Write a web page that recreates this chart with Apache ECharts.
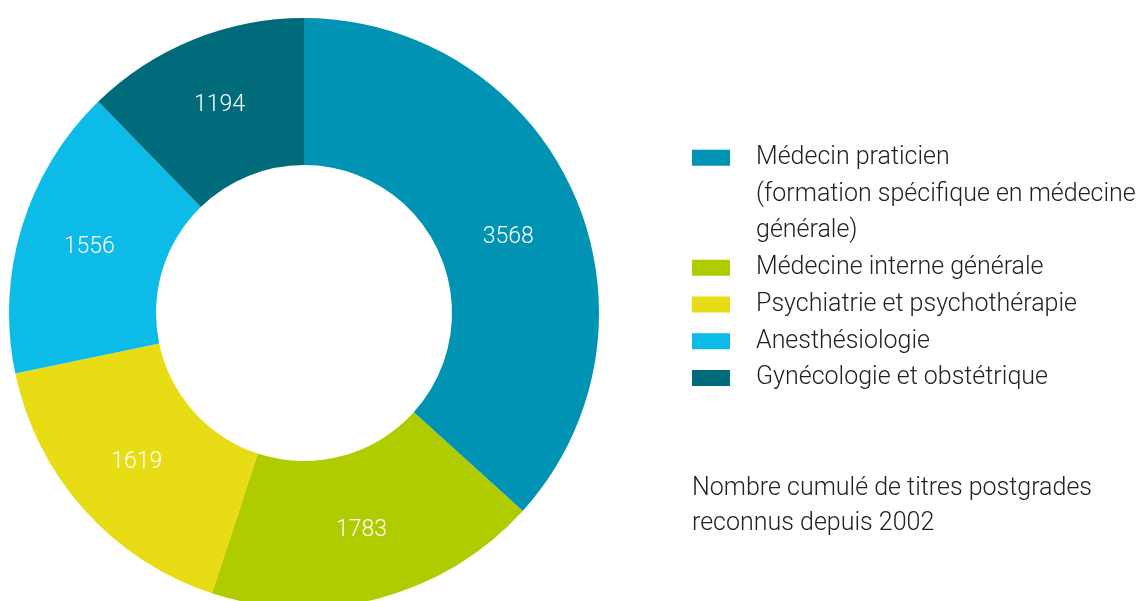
<!DOCTYPE html>
<html>
<head>
<meta charset="utf-8">
<script src="https://cdn.jsdelivr.net/npm/echarts@6/dist/echarts.min.js"></script>
<style>
  html, body { margin: 0; padding: 0; background: #fff; }
  #main { width: 1138px; height: 601px; }
</style>
</head>
<body>
<div id="main"></div>
<script>
var chart = echarts.init(document.getElementById('main'));

var categories = [
    'Médecin praticien\n(formation spécifique en médecine\ngénérale)',
    'Médecine interne générale',
    'Psychiatrie et psychothérapie',
    'Anesthésiologie',
    'Gynécologie et obstétrique'
];
var values = [3568, 1783, 1619, 1556, 1194];
var colors = ['#0093b4', '#b0cb00', '#e8dc15', '#0dbbe8', '#006b7a'];
var note = 'Nombre cumulé de titres postgrades\nreconnus depuis 2002';

var font = 'Roboto';
var lineH = 36.7;

var pieData = [];
for (var i = 0; i < values.length; i++) {
    pieData.push({
        name: categories[i],
        value: values[i],
        itemStyle: { color: colors[i] }
    });
}
// the big slice's label sits a bit lower in the original
pieData[0].label = { offset: [-1, 15] };

option = {
    backgroundColor: '#fff',
    animation: false,
    title: {
        text: note,
        left: 692,
        top: 471,
        padding: 0,
        textStyle: {
            fontFamily: font,
            fontWeight: 300,
            fontSize: 25,
            lineHeight: 35,
            color: '#222'
        }
    },
    legend: {
        orient: 'vertical',
        left: 692,
        top: 66,
        padding: 0,
        itemWidth: 38,
        itemHeight: 16,
        itemGap: 0,
        icon: 'rect',
        selectedMode: false,
        data: categories,
        // pad multi-line names with blank lines on top so the box stays on the first line
        formatter: function (name) {
            var n = name.split('\n').length;
            var pad = '';
            for (var k = 1; k < n; k++) pad += '\u00a0\n';
            return pad + name;
        },
        textStyle: {
            fontFamily: font,
            fontWeight: 300,
            fontSize: 25,
            lineHeight: lineH,
            color: '#222',
            padding: [0, 0, 0, 21]
        }
    },
    series: [
        {
            type: 'pie',
            center: [304, 313],
            radius: [148, 295],
            startAngle: 90,
            clockwise: true,
            avoidLabelOverlap: false,
            data: pieData,
            label: {
                show: true,
                position: 'inside',
                formatter: '{c}',
                color: '#fff',
                fontFamily: font,
                fontWeight: 300,
                fontSize: 23
            },
            labelLine: { show: false },
            itemStyle: { borderWidth: 0 },
            emphasis: { disabled: true }
        }
    ]
};

chart.setOption(option);
</script>
</body>
</html>
